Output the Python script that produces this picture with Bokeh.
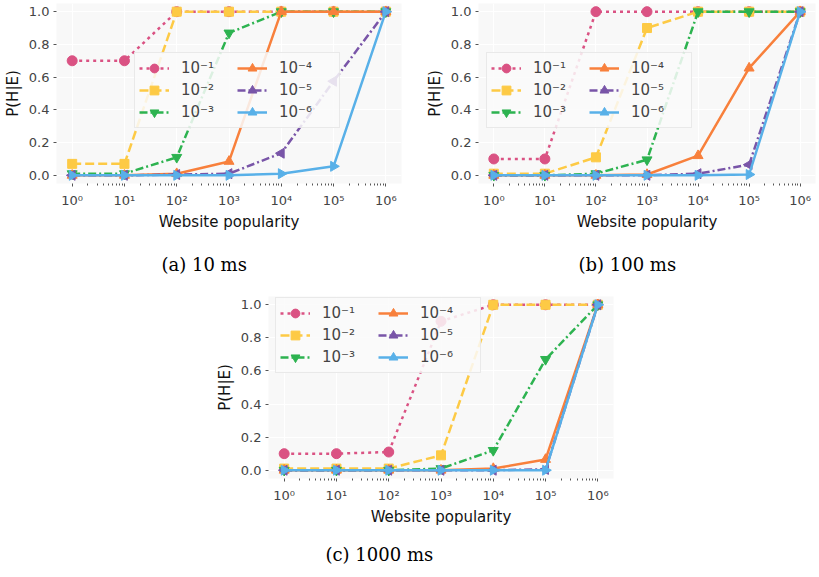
import math
from bokeh.plotting import figure
from bokeh.models import Legend, LegendItem, FixedTicker, Title, Spacer, PrintfTickFormatter
from bokeh.layouts import column, row
from bokeh.embed import file_html
from bokeh.resources import INLINE

# ---------------- data ----------------
popularity = [1, 10, 100, 1000, 10000, 100000, 1000000]
x_tick_labels = ["10⁰", "10¹", "10²", "10³", "10⁴", "10⁵", "10⁶"]
series_labels = ["10⁻¹", "10⁻²", "10⁻³", "10⁻⁴", "10⁻⁵", "10⁻⁶"]
y_ticks = [0.0, 0.2, 0.4, 0.6, 0.8, 1.0]

# (a) 10 ms
a_e1 = [0.70, 0.70, 1.00, 1.00, 1.00, 1.00, 1.00]
a_e2 = [0.07, 0.07, 1.00, 1.00, 1.00, 1.00, 1.00]
a_e3 = [0.01, 0.01, 0.11, 0.87, 1.00, 1.00, 1.00]
a_e4 = [0.00, 0.00, 0.01, 0.085, 1.00, 1.00, 1.00]
a_e5 = [0.00, 0.00, 0.005, 0.01, 0.135, 0.575, 1.00]
a_e6 = [0.00, 0.00, 0.00, 0.00, 0.01, 0.055, 1.00]

# (b) 100 ms
b_e1 = [0.10, 0.10, 1.00, 1.00, 1.00, 1.00, 1.00]
b_e2 = [0.01, 0.01, 0.11, 0.90, 1.00, 1.00, 1.00]
b_e3 = [0.00, 0.00, 0.01, 0.095, 1.00, 1.00, 1.00]
b_e4 = [0.00, 0.00, 0.00, 0.005, 0.12, 0.655, 1.00]
b_e5 = [0.00, 0.00, 0.00, 0.00, 0.01, 0.065, 1.00]
b_e6 = [0.00, 0.00, 0.00, 0.00, 0.00, 0.005, 1.00]

# (c) 1000 ms
c_e1 = [0.10, 0.10, 0.11, 0.90, 1.00, 1.00, 1.00]
c_e2 = [0.01, 0.01, 0.01, 0.09, 1.00, 1.00, 1.00]
c_e3 = [0.00, 0.00, 0.00, 0.01, 0.12, 0.67, 1.00]
c_e4 = [0.00, 0.00, 0.00, 0.00, 0.01, 0.065, 1.00]
c_e5 = [0.00, 0.00, 0.00, 0.00, 0.00, 0.005, 1.00]
c_e6 = [0.00, 0.00, 0.00, 0.00, 0.00, 0.00, 1.00]

# ---------------- styles ----------------
colors = ["#da5283", "#fdca45", "#2db350", "#f8803c", "#7955a8", "#58b0e8"]
dashes = ["3 4", "9 4", "8 3 2 3", "solid", "8 3 2 3", "solid"]
markers = ["circle", "square", "inverted_triangle", "triangle", "triangle", "triangle"]
angles = [0, 0, 0, 0, math.pi / 2, -math.pi / 2]
sizes = [10, 9, 10, 10, 10, 10]

FONT = "DejaVu Sans"


def make_panel(series, caption, width, height, lb, rb, tb, bb, legend_loc,
               cap_offset, cap_standoff):
    p = figure(width=width, height=height, x_axis_type="log",
               x_range=(10 ** -0.3, 10 ** 6.3), y_range=(-0.05, 1.05),
               output_backend="svg", toolbar_location=None,
               min_border_left=lb, min_border_right=rb,
               min_border_top=tb, min_border_bottom=bb)
    p.background_fill_color = "#f8f8f8"
    p.border_fill_color = "white"
    p.outline_line_color = None
    p.grid.grid_line_color = "white"
    p.grid.grid_line_width = 1

    p.xaxis.ticker = FixedTicker(
        ticks=popularity,
        minor_ticks=[m * d for d in popularity[:-1] for m in range(2, 10)])
    p.xaxis.major_label_overrides = {v: lab for v, lab in zip(popularity, x_tick_labels)}
    p.yaxis.ticker = FixedTicker(ticks=y_ticks)
    p.yaxis.formatter = PrintfTickFormatter(format="%.1f")
    for ax in (p.xaxis, p.yaxis):
        ax.axis_line_color = None
        ax.major_tick_line_color = "#555555"
        ax.minor_tick_line_color = "#555555"
        ax.major_tick_in = 0
        ax.major_tick_out = 3
        ax.minor_tick_in = 0
        ax.minor_tick_out = 2
        ax.major_label_text_font = FONT
        ax.major_label_text_font_size = "13px"
        ax.major_label_text_color = "#444444"
        ax.axis_label_text_font = FONT
        ax.axis_label_text_font_size = "15px"
        ax.axis_label_text_font_style = "normal"
        ax.axis_label_text_color = "#111111"
    p.yaxis.minor_tick_line_color = None
    p.xaxis.major_label_standoff = 6
    p.yaxis.major_label_standoff = 4
    p.xaxis.axis_label_standoff = 2
    p.yaxis.axis_label_standoff = 4
    p.xaxis.axis_label = "Website popularity"
    p.yaxis.axis_label = "P(H|E)"

    items = []
    for i, ys in enumerate(series):
        ln = p.line(popularity, ys, line_color=colors[i], line_width=2.5,
                    line_dash=dashes[i])
        sc = p.scatter(popularity, ys, marker=markers[i], size=sizes[i],
                       angle=angles[i], fill_color=colors[i], line_color=colors[i])
        items.append(LegendItem(label=series_labels[i], renderers=[ln, sc]))

    legend = Legend(items=items, location=legend_loc, ncols=2,
                    label_text_font=FONT, label_text_font_size="15px",
                    glyph_width=30, glyph_height=22, label_height=22,
                    label_width=56, label_standoff=12, spacing=0,
                    padding=4, margin=0,
                    border_line_color="#d8d8d8", border_line_width=1,
                    background_fill_color="#fafafa", background_fill_alpha=0.85)
    p.add_layout(legend, "center")

    t = Title(text=caption, align="left", offset=cap_offset,
              text_font="DejaVu Serif", text_font_size="18px",
              text_font_style="normal", text_color="black", standoff=cap_standoff)
    p.add_layout(t, "below")
    return p


pa = make_panel([a_e1, a_e2, a_e3, a_e4, a_e5, a_e6], "(a) 10 ms",
                420, 293, 55, 19, 3, 110, (78, 55), 105, 36)
pb = make_panel([b_e1, b_e2, b_e3, b_e4, b_e5, b_e6], "(b) 100 ms",
                399, 293, 58, 4, 3, 110, (8, 55), 100, 36)
pc = make_panel([c_e1, c_e2, c_e3, c_e4, c_e5, c_e6], "(c) 1000 ms",
                420, 284, 55, 19, 3, 99, (7, 105), 57, 26)

layout = column(row(pa, pb), row(Spacer(width=212, height=10), pc))

open("out.html", "w").write(file_html(layout, INLINE))
